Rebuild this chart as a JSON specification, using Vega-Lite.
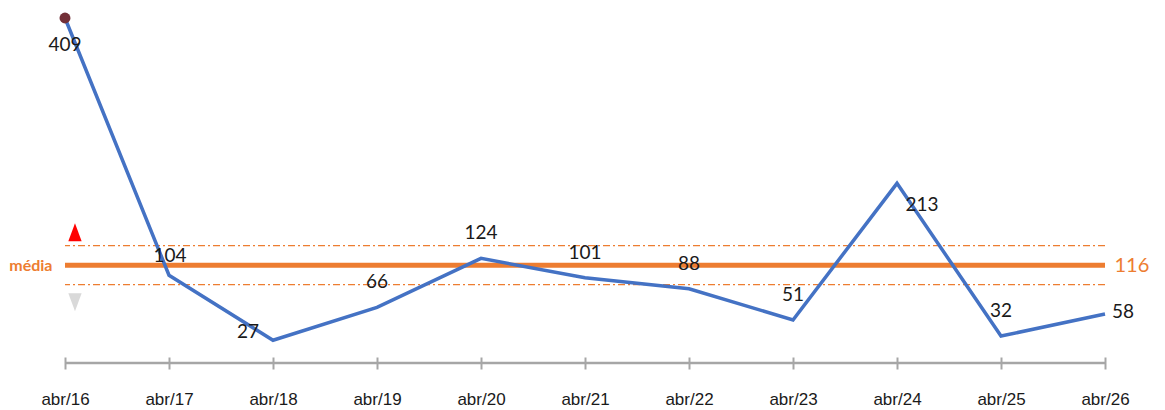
{
  "$schema": "https://vega.github.io/schema/vega-lite/v6.json",
  "width": 1040,
  "height": 345,
  "autosize": {"type": "none"},
  "padding": {"left": 65, "top": 18, "right": 60, "bottom": 47},
  "background": "white",
  "data": {"values": [
    {"mes": "abr/16", "valor": 409},
    {"mes": "abr/17", "valor": 104},
    {"mes": "abr/18", "valor": 27},
    {"mes": "abr/19", "valor": 66},
    {"mes": "abr/20", "valor": 124},
    {"mes": "abr/21", "valor": 101},
    {"mes": "abr/22", "valor": 88},
    {"mes": "abr/23", "valor": 51},
    {"mes": "abr/24", "valor": 213},
    {"mes": "abr/25", "valor": 32},
    {"mes": "abr/26", "valor": 58}
  ]},
  "resolve": {"axis": {"y": "independent"}},
  "layer": [
    {
      "data": {"values": [{"limite": "superior", "valor": 139.2}, {"limite": "inferior", "valor": 92.8}]},
      "mark": {"type": "rule", "color": "#ED7D31", "strokeWidth": 1.3, "strokeDash": [7, 3, 2, 3]},
      "encoding": {
        "y": {"field": "valor", "type": "quantitative", "scale": {"domain": [0, 409], "nice": false, "zero": true}, "axis": null}
      }
    },
    {
      "data": {"values": [{"linha": "média", "valor": 116}]},
      "mark": {"type": "rule", "color": "#ED7D31", "strokeWidth": 5},
      "encoding": {
        "y": {"field": "valor", "type": "quantitative", "axis": {
          "orient": "left", "values": [116], "labelExpr": "'média'", "title": null,
          "domain": false, "ticks": false, "grid": false, "labelPadding": 13,
          "labelColor": "#ED7D31", "labelFont": "Lato", "labelFontWeight": "bold", "labelFontSize": 16
        }}
      }
    },
    {
      "data": {"values": [{"linha": "média", "valor": 116}]},
      "mark": {"type": "rule", "color": "#ED7D31", "strokeWidth": 5, "opacity": 0},
      "encoding": {
        "y": {"field": "valor", "type": "quantitative", "axis": {
          "orient": "right", "values": [116], "title": null,
          "domain": false, "ticks": false, "grid": false, "labelPadding": 9,
          "labelColor": "#ED7D31", "labelFont": "Lato", "labelFontSize": 20
        }}
      }
    },
    {
      "data": {"values": [{}]},
      "mark": {"type": "rule", "color": "#A6A6A6", "strokeWidth": 2.5},
      "encoding": {"y": {"datum": 0, "type": "quantitative", "axis": null}}
    },
    {
      "data": {"values": [
        {"mes": "abr/16", "valor": 155, "sinal": "acima"},
        {"mes": "abr/16", "valor": 72, "sinal": "abaixo"}
      ]},
      "mark": {"type": "point", "filled": true, "opacity": 1, "size": 324},
      "encoding": {
        "x": {"field": "mes", "type": "ordinal"},
        "y": {"field": "valor", "type": "quantitative", "axis": null},
        "shape": {"field": "sinal", "type": "nominal", "legend": null, "scale": {"domain": ["acima", "abaixo"], "range": ["M1.11,-1L1.85,1L0.37,1Z", "M0.37,-1L1.85,-1L1.11,1Z"]}},
        "color": {"field": "sinal", "type": "nominal", "legend": null, "scale": {"domain": ["acima", "abaixo"], "range": ["#FF0000", "#D9D9D9"]}}
      }
    },
    {
      "mark": {"type": "line", "color": "#4472C4", "strokeWidth": 3.5},
      "encoding": {
        "x": {"field": "mes", "type": "ordinal", "scale": {"type": "point", "padding": 0}},
        "y": {"field": "valor", "type": "quantitative", "axis": null}
      }
    },
    {
      "transform": [{"filter": "datum.mes == 'abr/16'"}],
      "mark": {"type": "point", "filled": true, "opacity": 1, "color": "#722F37", "size": 120},
      "encoding": {
        "x": {"field": "mes", "type": "ordinal"},
        "y": {"field": "valor", "type": "quantitative", "axis": null}
      }
    },
    {
      "transform": [{"filter": {"field": "mes", "oneOf": ["abr/19", "abr/20", "abr/21", "abr/22", "abr/23", "abr/25"]}}],
      "mark": {"type": "text", "font": "Lato", "fontSize": 19, "color": "#1a1a1a", "dy": -25, "align": "center", "baseline": "middle"},
      "encoding": {
        "x": {"field": "mes", "type": "ordinal"},
        "y": {"field": "valor", "type": "quantitative", "axis": null},
        "text": {"field": "valor", "type": "quantitative"}
      }
    },
    {
      "transform": [{"filter": "datum.mes == 'abr/17'"}],
      "mark": {"type": "text", "font": "Lato", "fontSize": 19, "color": "#1a1a1a", "dy": -19, "dx": 1, "align": "center", "baseline": "middle"},
      "encoding": {
        "x": {"field": "mes", "type": "ordinal"},
        "y": {"field": "valor", "type": "quantitative", "axis": null},
        "text": {"field": "valor", "type": "quantitative"}
      }
    },
    {
      "transform": [{"filter": "datum.mes == 'abr/16'"}],
      "mark": {"type": "text", "font": "Lato", "fontSize": 19, "color": "#1a1a1a", "dy": 27, "align": "center", "baseline": "middle"},
      "encoding": {
        "x": {"field": "mes", "type": "ordinal"},
        "y": {"field": "valor", "type": "quantitative", "axis": null},
        "text": {"field": "valor", "type": "quantitative"}
      }
    },
    {
      "transform": [{"filter": "datum.mes == 'abr/18'"}],
      "mark": {"type": "text", "font": "Lato", "fontSize": 19, "color": "#1a1a1a", "dx": -25, "dy": -8, "align": "center", "baseline": "middle"},
      "encoding": {
        "x": {"field": "mes", "type": "ordinal"},
        "y": {"field": "valor", "type": "quantitative", "axis": null},
        "text": {"field": "valor", "type": "quantitative"}
      }
    },
    {
      "transform": [{"filter": "datum.mes == 'abr/24'"}],
      "mark": {"type": "text", "font": "Lato", "fontSize": 19, "color": "#1a1a1a", "dx": 25, "dy": 22, "align": "center", "baseline": "middle"},
      "encoding": {
        "x": {"field": "mes", "type": "ordinal"},
        "y": {"field": "valor", "type": "quantitative", "axis": null},
        "text": {"field": "valor", "type": "quantitative"}
      }
    },
    {
      "transform": [{"filter": "datum.mes == 'abr/26'"}],
      "mark": {"type": "text", "font": "Lato", "fontSize": 19, "color": "#1a1a1a", "dx": 18, "dy": -2, "align": "center", "baseline": "middle"},
      "encoding": {
        "x": {"field": "mes", "type": "ordinal"},
        "y": {"field": "valor", "type": "quantitative", "axis": null},
        "text": {"field": "valor", "type": "quantitative"}
      }
    }
  ],
  "config": {
    "view": {"stroke": null},
    "scale": {"pointPadding": 0},
    "axisX": {
      "title": null,
      "labelAngle": 0,
      "offset": -6,
      "domain": false,
      "grid": false,
      "tickSize": 12,
      "tickWidth": 2,
      "tickColor": "#A6A6A6",
      "labelPadding": 22,
      "labelFont": "Liberation Sans",
      "labelFontSize": 17,
      "labelColor": "#1a1a1a"
    }
  }
}
